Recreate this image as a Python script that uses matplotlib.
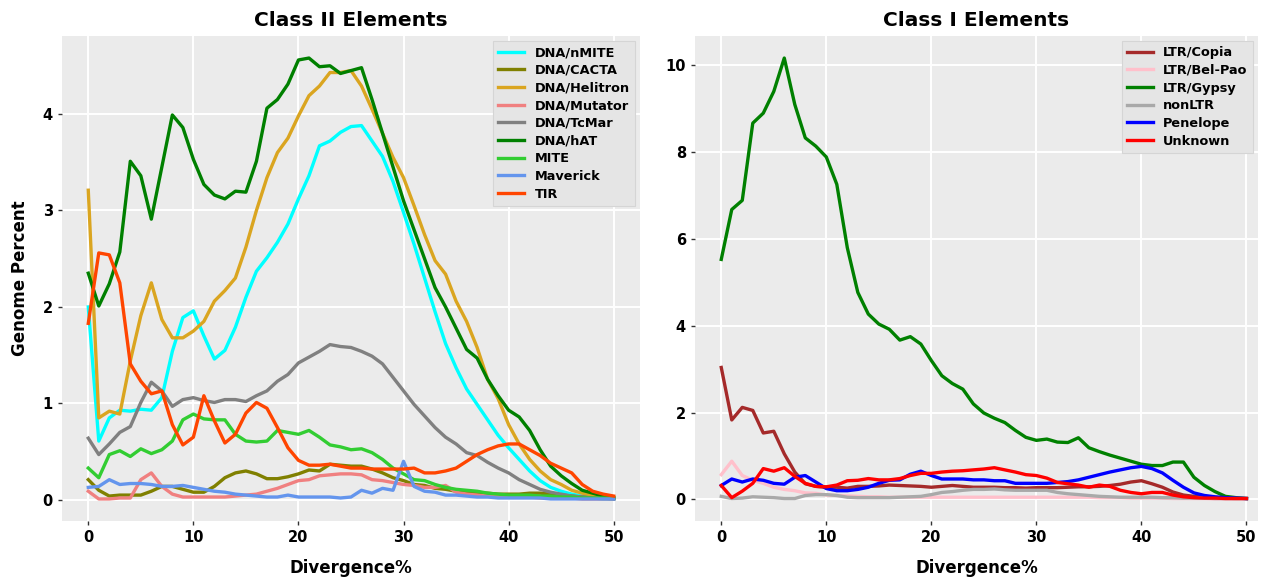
import numpy as np
import matplotlib.pyplot as plt

# Divergencia (%)
divergence = np.arange(0, 51)

# Clase II
dna_nmite = [2.0, 0.61, 0.85, 0.93, 0.92, 0.94, 0.93, 1.06, 1.54, 1.89, 1.96, 1.70, 1.46, 1.55, 1.79, 2.10, 2.37,
             2.51, 2.67, 2.86, 3.12, 3.36, 3.67, 3.72, 3.81, 3.87, 3.88, 3.72, 3.56, 3.30, 2.98, 2.65, 2.30, 1.95,
             1.62, 1.37, 1.15, 0.99, 0.83, 0.67, 0.54, 0.42, 0.30, 0.20, 0.13, 0.09, 0.06, 0.04, 0.02, 0.01, 0.01]
dna_cacta = [0.21, 0.10, 0.04, 0.05, 0.05, 0.05, 0.09, 0.14, 0.14, 0.11, 0.08, 0.08, 0.14, 0.23, 0.28, 0.30, 0.27,
             0.22, 0.22, 0.24, 0.27, 0.31, 0.30, 0.37, 0.36, 0.35, 0.35, 0.32, 0.28, 0.23, 0.20, 0.16, 0.15, 0.12,
             0.11, 0.09, 0.08, 0.07, 0.07, 0.06, 0.06, 0.06, 0.07, 0.07, 0.06, 0.05, 0.04, 0.03, 0.03, 0.02, 0.02]
dna_helitron = [3.21, 0.85, 0.92, 0.89, 1.44, 1.91, 2.25, 1.87, 1.68, 1.68, 1.75, 1.85, 2.06, 2.17, 2.30, 2.62, 3.00,
                3.34, 3.60, 3.75, 3.98, 4.19, 4.29, 4.43, 4.43, 4.45, 4.29, 4.05, 3.80, 3.55, 3.34, 3.05, 2.75, 2.48,
                2.34, 2.06, 1.85, 1.58, 1.25, 1.05, 0.78, 0.58, 0.42, 0.30, 0.21, 0.16, 0.10, 0.07, 0.05, 0.03, 0.02]
dna_mutator = [0.09, 0.01, 0.01, 0.02, 0.02, 0.21, 0.28, 0.14, 0.06, 0.03, 0.03, 0.03, 0.03, 0.03, 0.04, 0.05, 0.06,
               0.09, 0.12, 0.16, 0.20, 0.21, 0.25, 0.26, 0.27, 0.27, 0.26, 0.21, 0.20, 0.18, 0.16, 0.15, 0.13, 0.13,
               0.15, 0.08, 0.06, 0.05, 0.04, 0.04, 0.03, 0.03, 0.03, 0.02, 0.02, 0.02, 0.02, 0.01, 0.01, 0.01, 0.01]
dna_tcmar = [0.64, 0.47, 0.58, 0.70, 0.76, 1.01, 1.22, 1.13, 0.97, 1.04, 1.06, 1.03, 1.01, 1.04, 1.04, 1.02, 1.08,
             1.13, 1.23, 1.30, 1.42, 1.48, 1.54, 1.61, 1.59, 1.58, 1.54, 1.49, 1.41, 1.27, 1.13, 0.99, 0.87, 0.75,
             0.65, 0.58, 0.49, 0.46, 0.39, 0.33, 0.28, 0.21, 0.16, 0.11, 0.08, 0.06, 0.04, 0.03, 0.02, 0.02, 0.01]
dna_hat = [2.35, 2.01, 2.24, 2.57, 3.51, 3.36, 2.91, 3.45, 3.99, 3.86, 3.53, 3.27, 3.16, 3.12, 3.20, 3.19, 3.51,
           4.06, 4.15, 4.31, 4.56, 4.58, 4.49, 4.50, 4.42, 4.45, 4.48, 4.15, 3.80, 3.45, 3.10, 2.80, 2.50, 2.20,
           2.00, 1.78, 1.56, 1.47, 1.25, 1.08, 0.93, 0.86, 0.72, 0.52, 0.35, 0.25, 0.17, 0.10, 0.07, 0.04, 0.02]
mite = [0.33, 0.23, 0.47, 0.51, 0.45, 0.53, 0.48, 0.52, 0.61, 0.83, 0.89, 0.84, 0.83, 0.83, 0.68, 0.61, 0.60,
        0.61, 0.72, 0.70, 0.68, 0.72, 0.65, 0.57, 0.55, 0.52, 0.53, 0.49, 0.42, 0.33, 0.27, 0.21, 0.20, 0.16,
        0.13, 0.11, 0.10, 0.09, 0.07, 0.06, 0.05, 0.05, 0.05, 0.04, 0.04, 0.03, 0.03, 0.02, 0.02, 0.02, 0.02]
maverick = [0.13, 0.14, 0.21, 0.16, 0.17, 0.17, 0.16, 0.14, 0.14, 0.15, 0.13, 0.11, 0.09, 0.08, 0.06, 0.05, 0.04,
            0.03, 0.03, 0.05, 0.03, 0.03, 0.03, 0.03, 0.02, 0.03, 0.10, 0.07, 0.12, 0.10, 0.40, 0.14, 0.09, 0.08,
            0.05, 0.05, 0.04, 0.03, 0.03, 0.02, 0.02, 0.02, 0.02, 0.02, 0.01, 0.01, 0.01, 0.01, 0.01, 0.01, 0.01]
tir = [1.83, 2.56, 2.54, 2.25, 1.41, 1.23, 1.10, 1.13, 0.78, 0.57, 0.65, 1.08, 0.82, 0.59, 0.68, 0.90, 1.01,
       0.95, 0.75, 0.54, 0.41, 0.36, 0.36, 0.37, 0.35, 0.33, 0.33, 0.32, 0.32, 0.32, 0.32, 0.33, 0.28, 0.28,
       0.30, 0.33, 0.40, 0.47, 0.52, 0.56, 0.58, 0.58, 0.52, 0.46, 0.38, 0.33, 0.28, 0.16, 0.09, 0.06, 0.04]

# Clase I
ltr_copia = [3.04, 1.83, 2.12, 2.05, 1.53, 1.57, 1.05, 0.63, 0.36, 0.30, 0.28, 0.28, 0.26, 0.30, 0.30, 0.31, 0.33,
             0.32, 0.31, 0.30, 0.28, 0.30, 0.32, 0.30, 0.28, 0.28, 0.28, 0.27, 0.27, 0.26, 0.27, 0.27, 0.27, 0.28,
             0.29, 0.29, 0.30, 0.32, 0.35, 0.40, 0.43, 0.36, 0.28, 0.17, 0.10, 0.07, 0.05, 0.04, 0.03, 0.02, 0.02]
ltr_belpao = [0.57, 0.88, 0.55, 0.44, 0.37, 0.28, 0.23, 0.20, 0.15, 0.14, 0.10, 0.09, 0.08, 0.07, 0.06, 0.06, 0.05,
              0.05, 0.05, 0.05, 0.05, 0.05, 0.05, 0.05, 0.05, 0.05, 0.05, 0.05, 0.05, 0.05, 0.05, 0.05, 0.05, 0.05,
              0.05, 0.05, 0.04, 0.04, 0.04, 0.03, 0.03, 0.03, 0.03, 0.02, 0.02, 0.02, 0.02, 0.01, 0.01, 0.01, 0.01]
ltr_gypsy = [5.53, 6.68, 6.89, 8.67, 8.90, 9.40, 10.17, 9.10, 8.33, 8.14, 7.89, 7.26, 5.80, 4.77, 4.27, 4.04, 3.92,
             3.67, 3.75, 3.58, 3.20, 2.85, 2.67, 2.54, 2.20, 1.99, 1.87, 1.77, 1.59, 1.43, 1.36, 1.39, 1.32, 1.31,
             1.42, 1.19, 1.10, 1.02, 0.95, 0.88, 0.81, 0.78, 0.78, 0.86, 0.86, 0.51, 0.32, 0.18, 0.07, 0.04, 0.02]
non_ltr = [0.07, 0.02, 0.03, 0.06, 0.05, 0.04, 0.02, 0.02, 0.09, 0.11, 0.11, 0.09, 0.05, 0.04, 0.04, 0.04, 0.04,
           0.05, 0.06, 0.07, 0.11, 0.16, 0.18, 0.21, 0.23, 0.23, 0.24, 0.22, 0.21, 0.21, 0.21, 0.21, 0.16, 0.13,
           0.11, 0.09, 0.07, 0.06, 0.05, 0.05, 0.05, 0.05, 0.04, 0.04, 0.03, 0.03, 0.03, 0.02, 0.02, 0.02, 0.02]
penelope = [0.32, 0.47, 0.40, 0.47, 0.44, 0.37, 0.35, 0.51, 0.55, 0.40, 0.25, 0.20, 0.20, 0.23, 0.28, 0.37, 0.44,
            0.45, 0.58, 0.65, 0.55, 0.47, 0.47, 0.47, 0.45, 0.45, 0.43, 0.43, 0.37, 0.37, 0.37, 0.37, 0.39, 0.41,
            0.45, 0.51, 0.57, 0.63, 0.68, 0.73, 0.76, 0.71, 0.61, 0.44, 0.28, 0.15, 0.09, 0.06, 0.04, 0.03, 0.02]
unknown = [0.32, 0.04, 0.19, 0.37, 0.71, 0.65, 0.73, 0.53, 0.37, 0.30, 0.29, 0.33, 0.43, 0.44, 0.48, 0.45, 0.45,
           0.48, 0.55, 0.60, 0.60, 0.63, 0.65, 0.66, 0.68, 0.70, 0.73, 0.68, 0.63, 0.57, 0.55, 0.49, 0.39, 0.36,
           0.33, 0.28, 0.33, 0.30, 0.21, 0.16, 0.13, 0.16, 0.16, 0.10, 0.06, 0.04, 0.03, 0.03, 0.02, 0.02, 0.02]

clase2 = [
    ('DNA/nMITE', dna_nmite, 'cyan'),
    ('DNA/CACTA', dna_cacta, 'olive'),
    ('DNA/Helitron', dna_helitron, 'goldenrod'),
    ('DNA/Mutator', dna_mutator, 'lightcoral'),
    ('DNA/TcMar', dna_tcmar, 'gray'),
    ('DNA/hAT', dna_hat, 'green'),
    ('MITE', mite, 'limegreen'),
    ('Maverick', maverick, 'cornflowerblue'),
    ('TIR', tir, 'orangered'),
]
clase1 = [
    ('LTR/Copia', ltr_copia, 'brown'),
    ('LTR/Bel-Pao', ltr_belpao, 'pink'),
    ('LTR/Gypsy', ltr_gypsy, 'green'),
    ('nonLTR', non_ltr, 'darkgray'),
    ('Penelope', penelope, 'blue'),
    ('Unknown', unknown, 'red'),
]

plt.rcParams['font.family'] = 'DejaVu Sans'
plt.rcParams['font.weight'] = 'bold'

fig = plt.figure(figsize=(12.68, 5.79), dpi=100)
W, H = 1268, 579
ax1 = fig.add_axes([62 / W, 58 / H, 578 / W, 485 / H])
ax2 = fig.add_axes([695 / W, 58 / H, 563 / W, 485 / H])


def estilo(ax, titulo):
    ax.set_facecolor('#EBEBEB')
    for s in ax.spines.values():
        s.set_visible(False)
    ax.grid(True, color='white', linewidth=1.4)
    ax.set_axisbelow(True)
    ax.tick_params(length=3, width=1, color='#333333', labelsize=10.5)
    for lab in ax.get_xticklabels() + ax.get_yticklabels():
        lab.set_fontweight('bold')
    ax.set_title(titulo, fontsize=14.5, fontweight='bold', pad=7)
    ax.set_xlabel('Divergence%', fontsize=12, fontweight='bold', labelpad=10)
    leg = ax.legend(loc='upper right', prop={'weight': 'bold', 'size': 9.3}, labelspacing=0.36,
                    facecolor='#E5E5E5', edgecolor='#D5D5D5', framealpha=1, fancybox=False,
                    borderaxespad=0.4, handlelength=2.0)
    leg.get_frame().set_linewidth(0.8)


for nombre, vals, color in clase2:
    ax1.plot(divergence, vals, color=color, linewidth=2.4, label=nombre)
for nombre, vals, color in clase1:
    ax2.plot(divergence, vals, color=color, linewidth=2.4, label=nombre)

ax1.set_xticks([0, 10, 20, 30, 40, 50])
ax1.set_yticks([0, 1, 2, 3, 4])
ax2.set_xticks([0, 10, 20, 30, 40, 50])
ax2.set_yticks([0, 2, 4, 6, 8, 10])
ax1.set_xlim(-2.5, 52.5)
ax2.set_xlim(-2.5, 51.1)

estilo(ax1, 'Class II Elements')
estilo(ax2, 'Class I Elements')
ax1.set_ylabel('Genome Percent', fontsize=12, fontweight='bold', labelpad=10)

fig.savefig('out.png', dpi=100)
